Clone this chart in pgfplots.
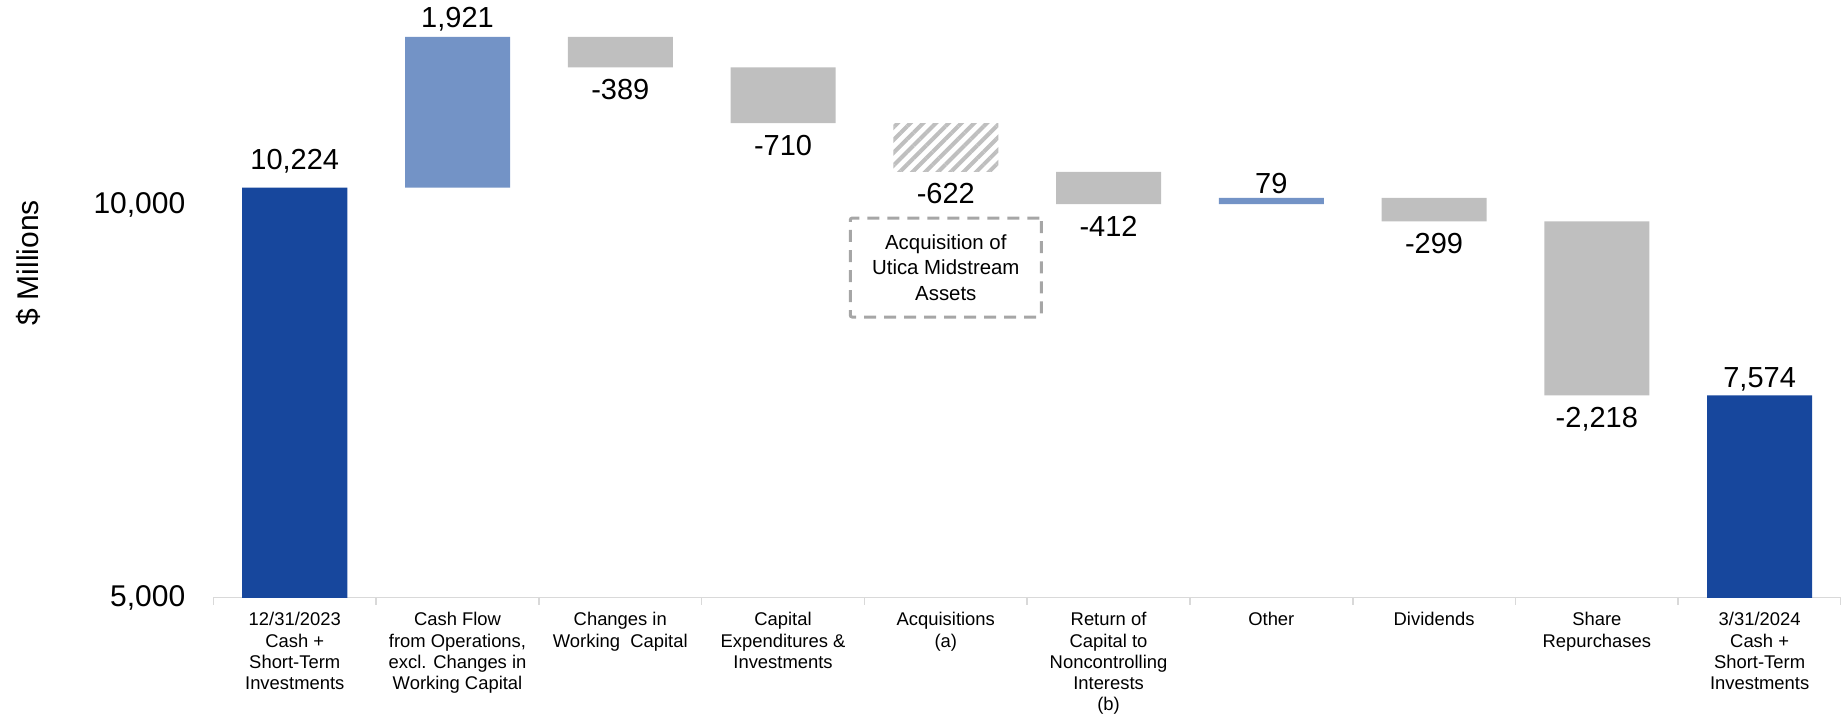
\documentclass[border=0pt]{standalone}
\usepackage{fontspec}
\setmainfont{Liberation Sans}
\usepackage{pgfplots}
\pgfplotsset{compat=1.18}
\usepackage{pgfplotstable}
\usetikzlibrary{patterns.meta}

\definecolor{darkblue}{HTML}{17479D}
\definecolor{lightblue}{HTML}{7393C6}
\definecolor{bargray}{HTML}{BFBFBF}
\definecolor{axisgray}{HTML}{D9D9D9}
\definecolor{dashgray}{HTML}{A6A6A6}

% Waterfall segments: invisible base + visible step
\pgfplotstableread{
x  base   dark   light  gray  hatch
0  0      10224  0      0     0
1  10224  0      1921   0     0
2  11756  0      0      389   0
3  11046  0      0      710   0
4  10424  0      0      0     622
5  10012  0      0      412   0
6  10012  0      79     0     0
7  9792   0      0      299   0
8  7574   0      0      2218  0
9  0      7574   0      0     0
}\steps

% Value labels: anchor value and vertical offset (pt)
\pgfplotstableread{
x  y      dy     lab
0  10224  9.25   10,224
1  12145  4.5    1,921
2  11756  -16    -389
3  11046  -16    -710
4  10424  -16    -622
5  10012  -16    -412
6  10091  2.0    79
7  9792   -16    -299
8  7574   -16    -2,218
9  7574   4.0    7,574
}\labels

\pgfplotsset{
  frame/.style={
    scale only axis,
    width=813.5pt, height=294.2pt,
    xmin=-0.5, xmax=9.5,
    ymin=5000, ymax=12500,
  }
}

\begin{document}
\begin{tikzpicture}
\begin{axis}[
  frame,
  name=main,
  ybar stacked,
  bar width=52.5pt,
  axis lines*=left,
  y axis line style={draw=none},
  x axis line style={draw=axisgray, line width=0.8pt},
  xtick={0,...,9},
  minor xtick={-0.5,0.5,...,9.5},
  major tick length=0pt,
  minor tick length=3.5pt,
  tick align=outside,
  tick style={draw=axisgray, line width=0.8pt},
  xticklabels={
    {12/31/2023\\Cash +\\Short-Term\\Investments},
    {Cash Flow\\from Operations,\\excl. Changes in\\Working Capital},
    {Changes in\\Working\ \ Capital},
    {Capital\\Expenditures \&\\Investments},
    {Acquisitions\\(a)},
    {Return of\\Capital to\\Noncontrolling\\Interests\\(b)},
    {Other},
    {Dividends},
    {Share\\Repurchases},
    {3/31/2024\\Cash +\\Short-Term\\Investments}
  },
  xticklabel style={align=center, font=\fontsize{9.2}{10.6}\selectfont, yshift=-4pt},
  ytick={5000,10000},
  scaled y ticks=false,
  yticklabel style={font=\fontsize{15}{18}\selectfont, xshift=-10.5pt},
  /pgf/number format/.cd, 1000 sep={,}, assume math mode=true,
]
\addplot[draw=none, fill=none] table[x=x, y=base] {\steps};
\addplot[draw=none, fill=darkblue] table[x=x, y=dark] {\steps};
\addplot[draw=none, fill=lightblue] table[x=x, y=light] {\steps};
\addplot[draw=none, fill=bargray] table[x=x, y=gray] {\steps};
\addplot[draw=none, pattern={Lines[angle=45, distance=4.5pt, line width=2pt]}, pattern color=bargray] table[x=x, y=hatch] {\steps};

\node[draw=dashgray, line width=1.5pt, dash pattern=on 6pt off 4pt, rounded corners=1pt,
      minimum width=95.5pt, minimum height=49.5pt, align=center,
      font=\fontsize{10.2}{12.75}\selectfont, inner sep=0pt]
  at (axis cs:4,9204) {Acquisition of\\Utica Midstream\\Assets};
\end{axis}

\begin{axis}[
  frame,
  hide axis,
  clip=false,
]
\addplot[draw=none, mark=none,
  nodes near coords, point meta=explicit symbolic,
  visualization depends on={\thisrow{dy} \as \dy},
  nodes near coords style={anchor=base, yshift=\dy pt, text=black,
    font=\fontsize{14.5}{17}\selectfont, inner sep=0pt},
] table[x=x, y=y, meta=lab] {\labels};
\end{axis}

\node[rotate=90, font=\fontsize{15}{18}\selectfont]
  at ([shift={(-92.5pt,167.4pt)}]main.south west) {\$ Millions};

\pgfresetboundingbox
\path[use as bounding box]
  ([shift={(-106.65pt,-58.85pt)}]main.south west) rectangle
  ([shift={(0pt,4.45pt)}]main.north east);
\end{tikzpicture}
\end{document}
